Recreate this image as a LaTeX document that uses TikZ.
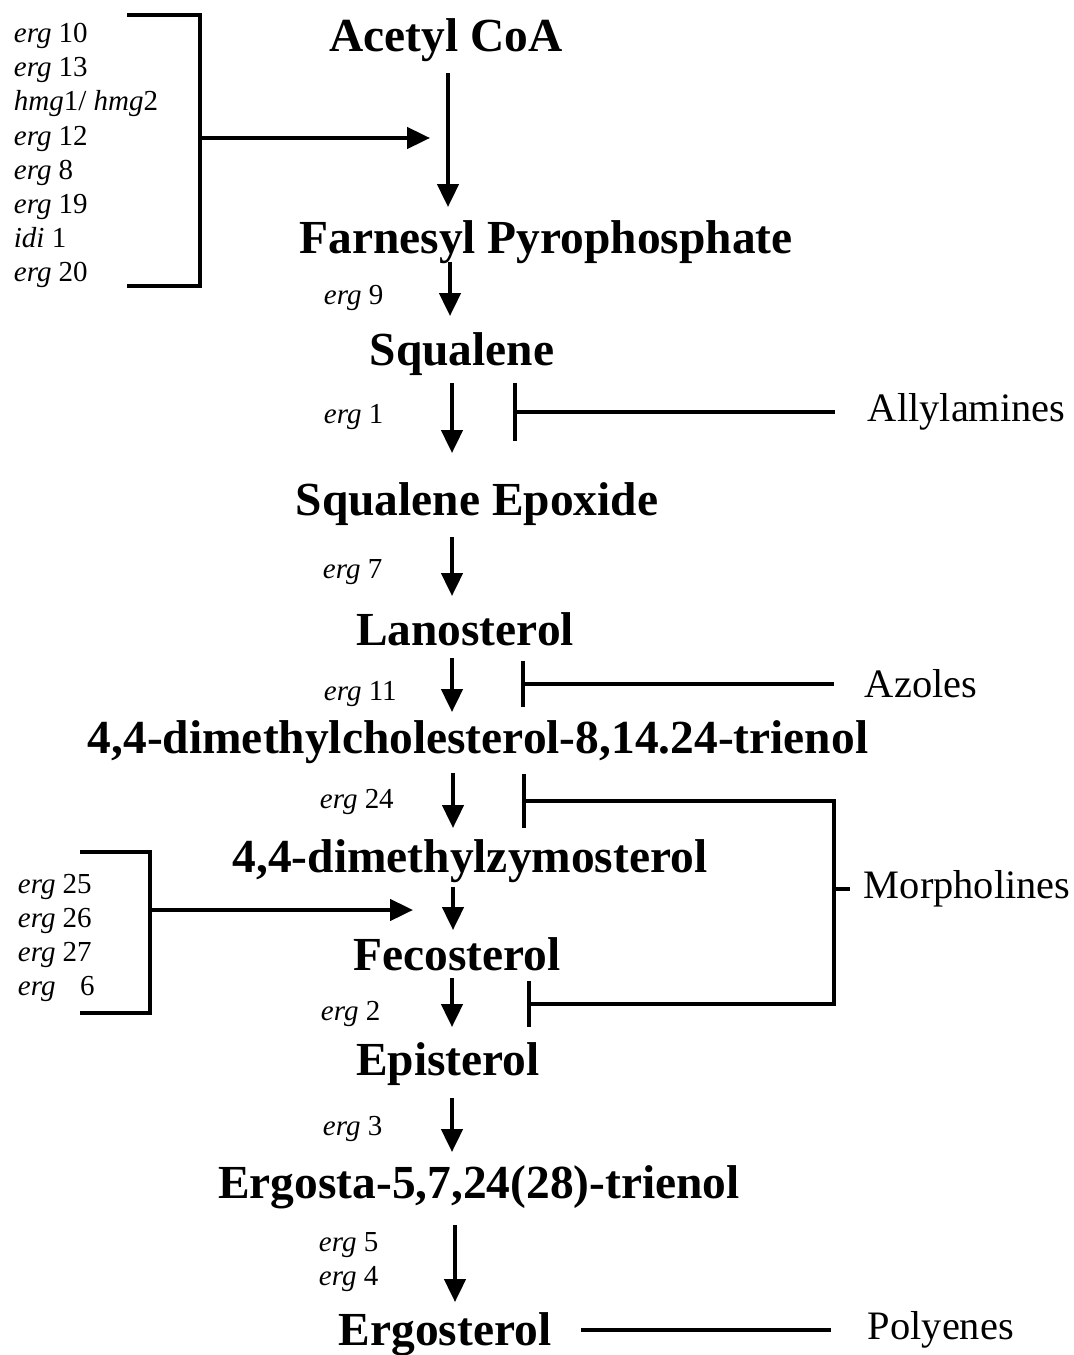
\documentclass[tikz,border=0pt]{standalone}
\usepackage{fontspec}
\setmainfont{Liberation Serif}
\usetikzlibrary{arrows.meta}

\begin{document}
\begin{tikzpicture}[x=0.02cm, y=-0.02cm, line width=2.2pt,
  every node/.style={inner sep=0pt},
  compound/.style={font=\fontsize{27}{32}\selectfont\bfseries, anchor=base},
  gene/.style={font=\fontsize{16.5}{20}\selectfont, anchor=base west},
  drug/.style={font=\fontsize{23}{28}\selectfont, anchor=west},
  flow/.style={-{Triangle[length=13pt, width=12pt]}},
  inhibit/.style={-{Bar[width=#1]}}]
  \useasboundingbox (0,0) rectangle (1073,1355);

  % pathway
  \node[compound] (acetyl) at (446,52) {Acetyl CoA};
  \node[compound] (farnesyl) at (546,253) {Farnesyl Pyrophosphate};
  \node[compound] (squalene) at (462,365) {Squalene};
  \node[compound] (epoxide) at (477,515) {Squalene Epoxide};
  \node[compound] (lanosterol) at (465,645) {Lanosterol};
  \node[compound] (trienol) at (478,753) {4,4-dimethylcholesterol-8,14.24-trienol};
  \node[compound] (zymosterol) at (470,872) {4,4-dimethylzymosterol};
  \node[compound] (fecosterol) at (457,970) {Fecosterol};
  \node[compound] (episterol) at (448,1075) {Episterol};
  \node[compound] (ergosta) at (479,1198) {Ergosta-5,7,24(28)-trienol};
  \node[compound] (ergosterol) at (445,1345) {Ergosterol};

  \coordinate (s1) at (448,73);   \coordinate (e1) at (448,207);
  \coordinate (s2) at (450,262);  \coordinate (e2) at (450,316);
  \coordinate (s3) at (452,383);  \coordinate (e3) at (452,453);
  \coordinate (s4) at (452,537);  \coordinate (e4) at (452,596);
  \coordinate (s5) at (452,658);  \coordinate (e5) at (452,712);
  \coordinate (s6) at (453,773);  \coordinate (e6) at (453,828);
  \coordinate (s7) at (453,887);  \coordinate (e7) at (453,930);
  \coordinate (s8) at (452,978);  \coordinate (e8) at (452,1027);
  \coordinate (s9) at (452,1098); \coordinate (e9) at (452,1152);
  \coordinate (s10) at (455,1225); \coordinate (e10) at (455,1302);
  \draw[flow] (s1) -- (e1);
  \draw[flow] (s2) -- (e2);
  \draw[flow] (s3) -- (e3);
  \draw[flow] (s4) -- (e4);
  \draw[flow] (s5) -- (e5);
  \draw[flow] (s6) -- (e6);
  \draw[flow] (s7) -- (e7);
  \draw[flow] (s8) -- (e8);
  \draw[flow] (s9) -- (e9);
  \draw[flow] (s10) -- (e10);

  % enzymes on the steps
  \node[gene] (g9) at (322,304) {\textit{erg} 9};
  \node[gene] (g1) at (322,423) {\textit{erg} 1};
  \node[gene] (g7) at (321,578) {\textit{erg} 7};
  \node[gene] (g11) at (322,700) {\textit{erg} 11};
  \node[gene] (g24) at (318,808) {\textit{erg} 24};
  \node[gene] (g2) at (319,1020) {\textit{erg} 2};
  \node[gene] (g3) at (321,1135) {\textit{erg} 3};
  \node[gene] (g5) at (317,1251) {\textit{erg} 5};
  \node[gene] (g4) at (317,1285) {\textit{erg} 4};

  % upper gene group
  \node[gene] (u1) at (12,43) {\textit{erg} 10};
  \node[gene] (u2) at (12,77) {\textit{erg} 13};
  \node[gene] (u3) at (12,111) {\textit{hmg}1/ \textit{hmg}2};
  \node[gene] (u4) at (12,145) {\textit{erg} 12};
  \node[gene] (u5) at (12,179) {\textit{erg} 8};
  \node[gene] (u6) at (12,213) {\textit{erg} 19};
  \node[gene] (u7) at (12,247) {\textit{idi} 1};
  \node[gene] (u8) at (12,281) {\textit{erg} 20};
  \draw (127,15) -- (200,15) -- (200,286) -- (127,286);
  \coordinate (upin) at (200,138);
  \coordinate (upout) at (430,138);
  \draw[flow] (upin) -- (upout);

  % lower gene group
  \node[gene] (l1) at (16,893) {\textit{erg} 25};
  \node[gene] (l2) at (16,927) {\textit{erg} 26};
  \node[gene] (l3) at (16,961) {\textit{erg} 27};
  \node[gene] (l4) at (16,995) {\textit{erg}\hspace{0.6em} 6};
  \draw (80,852) -- (150,852) -- (150,1013) -- (80,1013);
  \coordinate (lowin) at (150,910);
  \coordinate (lowout) at (413,910);
  \draw[flow] (lowin) -- (lowout);

  % antifungals
  \node[drug] (allyl) at (866,412) {Allylamines};
  \node[drug] (azoles) at (863,684) {Azoles};
  \node[drug] (morph) at (862,889) {Morpholines};
  \node[drug] (poly) at (866,1330) {Polyenes};
  \coordinate (allylbar) at (513,412);
  \coordinate (azolebar) at (521,684);
  \coordinate (morphtop) at (522,801);
  \coordinate (morphbot) at (527,1004);
  \draw[inhibit=33pt] (allyl.west) -- (allylbar) [shorten <=0.62cm];
  \draw[inhibit=26pt] (azoles.west) -- (azolebar) [shorten <=0.58cm];
  \draw[{Bar[width=31pt]}-{Bar[width=26pt]}] (morphtop) -- (morphtop -| 834,0) -- (morphbot -| 834,0) -- (morphbot);
  \draw (morph.west -| 834,0) -- (morph.west) [shorten >=0.24cm];
  \draw (poly.west -| ergosterol.east) -- (poly.west) [shorten <=0.56cm, shorten >=0.7cm];
\end{tikzpicture}
\end{document}
